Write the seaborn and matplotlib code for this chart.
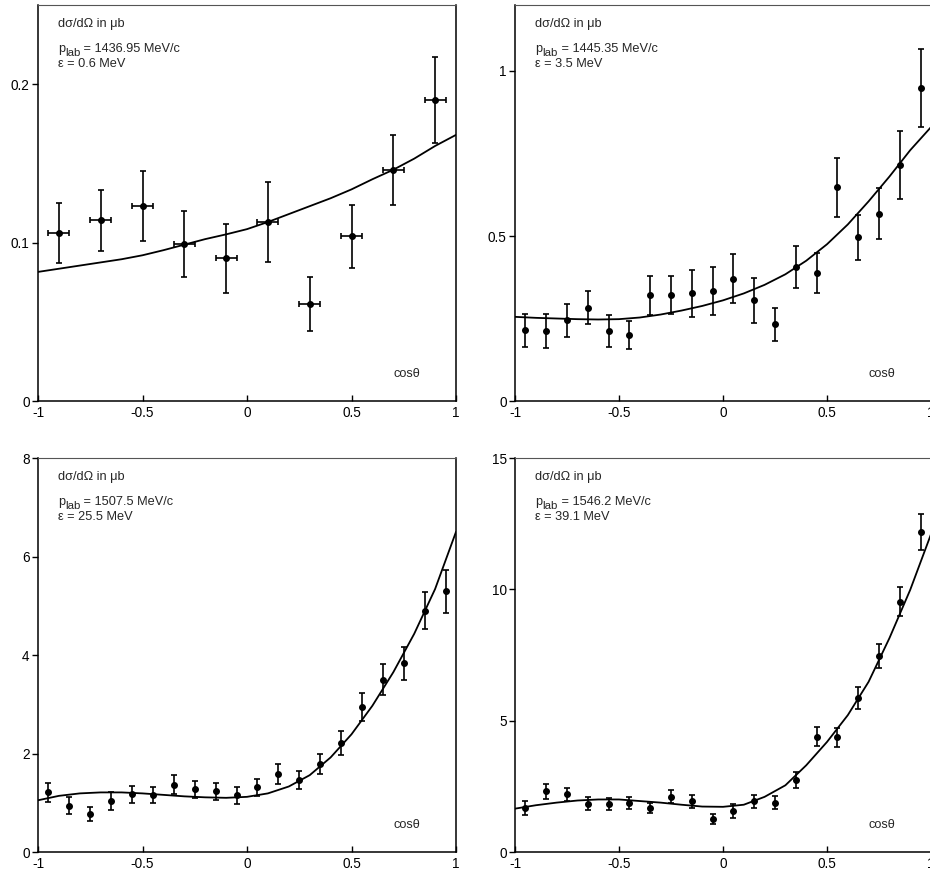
import numpy as np
import pandas as pd
import seaborn as sns
import matplotlib
matplotlib.use("Agg")
import matplotlib.pyplot as plt

# ---------------- data ----------------
# panel 1: p_lab = 1436.95 MeV/c
p1_x = [-0.9, -0.7, -0.5, -0.3, -0.1, 0.1, 0.3, 0.5, 0.7, 0.9]
p1_y = [0.106, 0.114, 0.123, 0.099, 0.090, 0.113, 0.061, 0.104, 0.146, 0.190]
p1_yerr = [0.019, 0.019, 0.022, 0.021, 0.022, 0.025, 0.017, 0.020, 0.022, 0.027]
p1_xerr = [0.05] * 10

# 20-bin panels share the same cos(theta) centres
bins20 = [-0.95, -0.85, -0.75, -0.65, -0.55, -0.45, -0.35, -0.25, -0.15, -0.05,
          0.05, 0.15, 0.25, 0.35, 0.45, 0.55, 0.65, 0.75, 0.85, 0.95]

# panel 2: p_lab = 1445.35 MeV/c
p2_y = [0.215, 0.212, 0.245, 0.282, 0.212, 0.199, 0.320, 0.322, 0.326, 0.334,
        0.370, 0.305, 0.233, 0.406, 0.388, 0.647, 0.496, 0.568, 0.714, 0.949]
p2_yerr = [0.050, 0.051, 0.050, 0.050, 0.048, 0.042, 0.058, 0.058, 0.070, 0.072,
           0.074, 0.068, 0.050, 0.065, 0.060, 0.090, 0.068, 0.078, 0.103, 0.119]

# panel 3: p_lab = 1507.5 MeV/c
p3_y = [1.21, 0.94, 0.77, 1.04, 1.17, 1.15, 1.37, 1.27, 1.23, 1.15,
        1.31, 1.59, 1.46, 1.78, 2.21, 2.94, 3.50, 3.83, 4.90, 5.29]
p3_yerr = [0.19, 0.17, 0.14, 0.18, 0.17, 0.16, 0.20, 0.17, 0.17, 0.17,
           0.17, 0.20, 0.19, 0.20, 0.24, 0.28, 0.31, 0.33, 0.38, 0.43]

# panel 4: p_lab = 1546.2 MeV/c
p4_y = [1.68, 2.31, 2.19, 1.84, 1.82, 1.88, 1.69, 2.10, 1.93, 1.27,
        1.56, 1.93, 1.88, 2.73, 4.39, 4.36, 5.87, 7.46, 9.53, 12.18]
p4_yerr = [0.26, 0.28, 0.24, 0.24, 0.23, 0.23, 0.19, 0.25, 0.24, 0.19,
           0.25, 0.25, 0.26, 0.30, 0.37, 0.37, 0.42, 0.46, 0.55, 0.70]

# fitted curves at cos(theta) = -1, -0.9, ..., 1
curve_x = [-1.0, -0.9, -0.8, -0.7, -0.6, -0.5, -0.4, -0.3, -0.2, -0.1, 0.0,
           0.1, 0.2, 0.3, 0.4, 0.5, 0.6, 0.7, 0.8, 0.9, 1.0]
c1_y = [0.0815, 0.0835, 0.0855, 0.0875, 0.0895, 0.0920, 0.0952, 0.0987, 0.1022,
        0.1052, 0.1085, 0.1130, 0.1180, 0.1230, 0.1280, 0.1336, 0.1400, 0.1460,
        0.1530, 0.1610, 0.1680]
c2_y = [0.255, 0.252, 0.250, 0.248, 0.247, 0.248, 0.253, 0.262, 0.274, 0.288,
        0.305, 0.326, 0.352, 0.384, 0.425, 0.475, 0.535, 0.605, 0.680, 0.760, 0.830]
c3_y = [1.05, 1.14, 1.19, 1.21, 1.21, 1.19, 1.16, 1.13, 1.11, 1.10, 1.12,
        1.19, 1.33, 1.56, 1.92, 2.39, 2.97, 3.65, 4.43, 5.34, 6.50]
c4_y = [1.65, 1.78, 1.88, 1.96, 2.00, 2.00, 1.94, 1.88, 1.80, 1.73, 1.72,
        1.80, 2.10, 2.54, 3.30, 4.19, 5.21, 6.48, 8.14, 9.98, 12.10]

p_labels = ["1436.95", "1445.35", "1507.5", "1546.2"]
eps_labels = ["0.6", "3.5", "25.5", "39.1"]
ylims = [(0, 0.25), (0, 1.2), (0, 8), (0, 15)]
yticks = [[0, 0.1, 0.2], [0, 0.5, 1], [0, 2, 4, 6, 8], [0, 5, 10, 15]]
ytick_labels = [["0", "0.1", "0.2"], ["0", "0.5", "1"],
                ["0", "2", "4", "6", "8"], ["0", "5", "10", "15"]]
xticks = [-1, -0.5, 0, 0.5, 1]
xtick_labels = ["-1", "-0.5", "0", "0.5", "1"]

# ---------------- style ----------------
sns.set_theme(style="ticks")
plt.rcParams["font.family"] = ["Liberation Sans", "DejaVu Sans"]
plt.rcParams["axes.edgecolor"] = "black"

DPI = 100
FS = 9.2      # annotation text
TFS = 9.8     # tick labels
fig = plt.figure(figsize=(9.3, 8.71), dpi=DPI)
W, H = 930.0, 871.0
positions = [
    (38 / W, (H - 401) / H, 418 / W, 396 / H),
    (515 / W, (H - 401) / H, 416 / W, 396 / H),
    (38 / W, (H - 852) / H, 418 / W, 394 / H),
    (515 / W, (H - 852) / H, 416 / W, 394 / H),
]

points = [
    (p1_x, p1_y, p1_yerr, p1_xerr),
    (bins20, p2_y, p2_yerr, None),
    (bins20, p3_y, p3_yerr, None),
    (bins20, p4_y, p4_yerr, None),
]
curves = [c1_y, c2_y, c3_y, c4_y]

renderer = fig.canvas.get_renderer()
PT = 72.0 / DPI   # pixels -> points


def corner_text(ax, s, dx_px, dy_px, fs=FS):
    """Text placed relative to the axes' top-left corner (offsets in pixels)."""
    return ax.annotate(s, xy=(0, 1), xycoords="axes fraction",
                       xytext=(dx_px * PT, -dy_px * PT), textcoords="offset points",
                       fontsize=fs, ha="left", va="baseline")


def plab_text(ax, dx, dy, value):
    t1 = corner_text(ax, "p", dx, dy)
    w1 = t1.get_window_extent(renderer).width
    t2 = corner_text(ax, "lab", dx + w1, dy + 4, fs=FS * 0.9)
    w2 = t2.get_window_extent(renderer).width
    corner_text(ax, " = " + value + " MeV/c", dx + w1 + w2, dy)


for i in range(4):
    ax = fig.add_axes(positions[i])
    xs, ys, yerr, xerr = points[i]
    df_curve = pd.DataFrame({"x": curve_x, "y": curves[i]})
    sns.lineplot(data=df_curve, x="x", y="y", ax=ax, color="black", lw=1.3)
    ax.errorbar(xs, ys, yerr=yerr, xerr=xerr, fmt="o", color="black",
                ms=4, elinewidth=1.2, capsize=2.2, capthick=1.2)
    ax.set_xlim(-1, 1)
    ax.set_ylim(*ylims[i])
    ax.set_xticks(xticks)
    ax.set_xticklabels(xtick_labels, fontsize=TFS)
    ax.set_yticks(yticks[i])
    ax.set_yticklabels(ytick_labels[i], fontsize=TFS)
    ax.set_xlabel("")
    ax.set_ylabel("")
    ax.tick_params(axis="x", direction="in", length=4.5, width=1.0, pad=3.5,
                   colors="black")
    ax.tick_params(axis="y", direction="out", length=4.5, width=1.0, pad=1.5,
                   colors="black")
    for s in ax.spines.values():
        s.set_visible(True)
        s.set_color("black")
        s.set_linewidth(1.1)
    ax.spines["top"].set_color("#555555")
    ax.spines["top"].set_linewidth(0.8)

    corner_text(ax, "dσ/dΩ in μb", 20, 22)
    plab_text(ax, 20, 47, p_labels[i])
    corner_text(ax, "ε = " + eps_labels[i] + " MeV", 20, 62)
    ax.text(0.883, 0.068, "cosθ", transform=ax.transAxes, fontsize=FS,
            ha="center", va="center")

fig.savefig("out.png", dpi=DPI)
